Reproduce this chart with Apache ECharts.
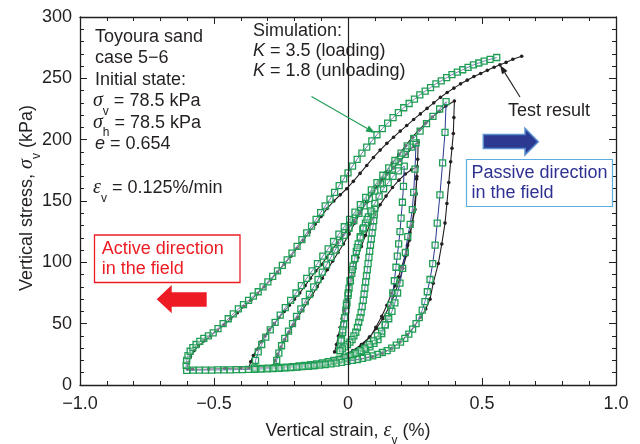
<!DOCTYPE html>
<html>
<head>
<meta charset="utf-8">
<script src="https://cdn.jsdelivr.net/npm/echarts@6/dist/echarts.min.js"></script>
<style>
  html, body { margin: 0; padding: 0; background: #fff; }
  #chart { width: 640px; height: 444px; }
</style>
</head>
<body>
<div id="chart"></div>
<script>
// ---- Axis ticks ----
const xTickValues = [-1, -0.5, 0, 0.5, 1];
const xTickLabels = ['\u22121.0', '\u22120.5', '0', '0.5', '1.0'];
const yTickValues = [0, 50, 100, 150, 200, 250, 300];
const yTickLabels = ['0', '50', '100', '150', '200', '250', '300'];

// ---- Test result: [vertical strain %, vertical stress kPa] ----
const testReload1 = [[-0.050,27],[-0.043,33],[-0.036,40],[-0.029,47],[-0.022,54],[-0.014,61],[-0.005,69],[0.004,77],[0.014,86],[0.025,95],[0.037,104],[0.050,113],[0.065,122],[0.082,131],[0.100,139],[0.120,147],[0.142,154],[0.166,161],[0.190,167],[0.214,172],[0.237,175.5],[0.258,178]];
const testUnload1 = [[0.258,178],[0.256,168],[0.252,155],[0.246,142],[0.238,130],[0.229,118],[0.218,106],[0.205,95],[0.190,84],[0.172,73],[0.152,63],[0.130,54],[0.106,46],[0.080,39],[0.050,33],[0.018,28],[-0.020,24],[-0.065,20.5],[-0.115,18],[-0.170,16.5],[-0.225,15.5],[-0.280,15]];
const testReload2 = [[-0.280,15],[-0.272,20],[-0.262,25],[-0.250,31],[-0.236,37],[-0.220,43],[-0.204,49],[-0.188,55],[-0.170,61],[-0.152,67],[-0.134,73],[-0.115,80],[-0.096,87],[-0.077,94],[-0.057,101],[-0.037,108],[-0.017,115],[0.004,123],[0.025,132],[0.045,140],[0.070,149],[0.095,158],[0.120,165],[0.145,172],[0.170,177],[0.195,183],[0.220,188.5],[0.245,194.5],[0.262,198]];
const testUnload2 = [[0.262,198],[0.260,184],[0.257,170],[0.254,156],[0.250,143],[0.241,133],[0.231,124],[0.222,114],[0.213,105],[0.200,96],[0.188,88],[0.176,81],[0.163,75],[0.145,65],[0.126,56],[0.104,47],[0.082,39],[0.055,33],[0.025,28],[-0.010,24],[-0.050,21],[-0.100,18.5],[-0.160,16.5],[-0.220,15.2],[-0.280,14.5],[-0.330,14],[-0.370,14]];
const testReload3 = [[-0.370,14],[-0.363,19],[-0.353,24],[-0.340,29],[-0.325,35],[-0.310,40],[-0.293,45],[-0.275,50],[-0.257,55],[-0.238,60],[-0.219,65],[-0.200,70],[-0.180,75],[-0.160,81],[-0.140,87],[-0.120,93],[-0.100,98],[-0.080,104],[-0.060,110],[-0.040,116],[-0.020,122],[0.000,127],[0.022,134],[0.045,141],[0.068,149],[0.091,157],[0.115,165],[0.140,173],[0.165,181],[0.190,188],[0.215,195],[0.240,202],[0.265,208],[0.290,213.5],[0.315,218.5],[0.340,223],[0.365,227.5],[0.397,231.5]];
const testUnload3 = [[0.397,231.5],[0.395,218],[0.393,205],[0.388,193],[0.383,182],[0.376,165],[0.369,148],[0.362,132],[0.350,115],[0.337,99],[0.318,83],[0.306,70],[0.290,62],[0.270,55],[0.248,48],[0.222,41],[0.194,35],[0.164,30],[0.130,26],[0.090,23],[0.045,21],[0.000,19.5],[-0.050,18.3],[-0.100,17.3],[-0.160,16.3],[-0.220,15.5],[-0.280,14.8],[-0.340,14.2],[-0.400,13.8],[-0.460,13.4],[-0.520,13.1],[-0.580,12.9],[-0.600,13]];
const testReload4 = [[-0.600,13],[-0.596,18],[-0.588,23],[-0.575,28],[-0.558,32],[-0.537,36],[-0.513,40],[-0.488,44.5],[-0.463,49],[-0.438,54],[-0.413,59],[-0.388,64],[-0.363,69],[-0.338,74.5],[-0.313,80],[-0.288,86],[-0.263,92],[-0.238,98.5],[-0.213,105],[-0.190,111.5],[-0.167,118],[-0.145,124.5],[-0.123,131],[-0.100,137.5],[-0.077,144],[-0.053,150],[-0.029,155],[-0.005,160],[0.020,166],[0.045,172.5],[0.070,179],[0.095,185.5],[0.120,191.5],[0.145,197],[0.170,202],[0.195,207],[0.219,211.5],[0.245,216.5],[0.270,221],[0.295,225.5],[0.320,230],[0.345,234.5],[0.370,238.5],[0.395,242],[0.420,245.5],[0.445,248.5],[0.470,251.5],[0.495,254],[0.520,256.5],[0.545,259],[0.567,261],[0.590,263],[0.615,265.5],[0.648,268]];

// ---- Simulation (K = 3.5 loading, K = 1.8 unloading) ----
const simReload1 = [[-0.030,28],[-0.027,32],[-0.024,37],[-0.020,43],[-0.016,49],[-0.012,55],[-0.008,61],[-0.004,67],[0.000,73],[0.004,79],[0.009,85],[0.014,91],[0.019,97],[0.025,103],[0.031,109],[0.038,115],[0.046,121],[0.055,127],[0.065,132],[0.076,137],[0.088,141],[0.100,144]];
const simUnload1 = [[0.100,144],[0.098,139],[0.096,134],[0.093,129],[0.090,124],[0.087,119],[0.084,114],[0.081,109],[0.078,104],[0.075,99],[0.072,94],[0.069,89],[0.066,84],[0.063,79],[0.060,74],[0.057,69],[0.053,64],[0.049,59],[0.045,55],[0.040,51],[0.035,47],[0.029,43],[0.022,40],[0.015,37],[0.007,35],[-0.002,33],[-0.012,31],[-0.021,29.5],[-0.030,28]];
const simReload2 = [[-0.030,28],[-0.026,36],[-0.020,45],[-0.013,55],[-0.006,65],[0.001,75],[0.008,85],[0.016,94],[0.025,103],[0.035,112],[0.046,120],[0.058,128],[0.071,135],[0.085,142],[0.100,148],[0.116,154],[0.133,160],[0.150,165],[0.168,170],[0.188,174.5],[0.210,178.5]];
const simUnload2 = [[0.210,178.5],[0.207,162],[0.203,149],[0.198,136],[0.194,125],[0.189,115],[0.184,105],[0.179,96],[0.173,85],[0.167,75],[0.159,65],[0.150,56],[0.139,49],[0.126,42],[0.112,37],[0.097,34],[0.082,31],[0.066,29],[0.050,27.5],[0.035,26],[0.020,24.5],[0.003,23],[-0.015,21.5],[-0.035,20.2],[-0.056,19],[-0.077,18],[-0.099,17.2],[-0.121,16.5],[-0.143,15.8],[-0.165,15.3],[-0.187,14.8],[-0.209,14.5],[-0.231,14.2],[-0.253,14],[-0.270,14]];
const simReload3 = [[-0.270,14],[-0.266,20],[-0.258,26],[-0.248,32],[-0.236,38],[-0.222,44],[-0.207,50],[-0.192,56],[-0.176,62],[-0.160,68],[-0.144,74],[-0.128,80],[-0.112,86],[-0.096,92],[-0.080,98],[-0.064,104],[-0.048,110],[-0.031,116],[-0.014,122],[0.004,128],[0.022,134],[0.041,140],[0.060,146],[0.080,152],[0.100,158],[0.121,164],[0.143,170],[0.166,176],[0.190,182],[0.214,188],[0.238,194],[0.254,197.5]];
const simUnload3 = [[0.254,197.5],[0.250,176],[0.245,157],[0.240,143],[0.232,131],[0.223,121],[0.214,108],[0.204,95],[0.194,83],[0.185,75],[0.175,67],[0.164,60],[0.152,54],[0.139,49],[0.125,44],[0.110,40],[0.095,36],[0.079,33],[0.062,30],[0.045,28],[0.027,26],[0.008,24],[-0.012,22.5],[-0.032,21],[-0.053,20],[-0.074,19],[-0.095,18],[-0.117,17.2],[-0.139,16.5],[-0.161,16],[-0.183,15.5],[-0.205,15],[-0.228,14.6],[-0.251,14.3],[-0.274,14],[-0.297,13.8],[-0.320,13.6],[-0.343,13.5],[-0.350,14]];
const simReload4 = [[-0.350,14],[-0.345,20],[-0.335,27],[-0.322,33],[-0.307,39],[-0.290,45],[-0.272,51],[-0.253,57],[-0.234,63],[-0.214,69],[-0.194,75],[-0.174,81],[-0.154,87],[-0.134,93],[-0.114,99],[-0.094,105],[-0.074,111],[-0.054,117],[-0.034,123],[-0.014,129],[0.006,135],[0.026,141],[0.046,147],[0.066,153],[0.087,159],[0.108,165],[0.130,171],[0.152,177],[0.175,183],[0.198,189],[0.221,195],[0.245,201],[0.269,207],[0.293,213],[0.317,219],[0.342,225],[0.366,231]];
const simUnload4 = [[0.366,231],[0.362,206],[0.353,181],[0.343,155],[0.333,132],[0.325,114],[0.316,99],[0.306,86],[0.296,76],[0.287,68],[0.277,61],[0.266,55],[0.254,50],[0.241,45.5],[0.227,41.5],[0.212,38],[0.196,35],[0.180,32.5],[0.163,30],[0.146,28],[0.128,26.5],[0.110,25],[0.092,23.8],[0.073,22.7],[0.054,21.7],[0.035,20.8],[0.016,20],[-0.004,19.2],[-0.024,18.5],[-0.044,17.8],[-0.064,17.2],[-0.085,16.7],[-0.106,16.2],[-0.127,15.7],[-0.148,15.3],[-0.170,14.9],[-0.192,14.5],[-0.214,14.2],[-0.236,13.9],[-0.258,13.6],[-0.280,13.4],[-0.302,13.2],[-0.325,13],[-0.348,12.8],[-0.371,12.7],[-0.394,12.6],[-0.417,12.5],[-0.440,12.4],[-0.463,12.3],[-0.486,12.3],[-0.509,12.2],[-0.532,12.2],[-0.555,12.1],[-0.578,12.1],[-0.602,12]];
const simReload5 = [[-0.602,12],[-0.604,16],[-0.602,20],[-0.597,24],[-0.589,27.5],[-0.579,30.5],[-0.567,33],[-0.553,35.5],[-0.538,38],[-0.521,40],[-0.503,42.5],[-0.485,46],[-0.466,50],[-0.447,54],[-0.428,58],[-0.409,62],[-0.390,65.5],[-0.371,69],[-0.353,72.5],[-0.335,76],[-0.317,80],[-0.299,84],[-0.281,88.5],[-0.263,93],[-0.245,97.5],[-0.227,102],[-0.209,107.5],[-0.190,113],[-0.172,118.5],[-0.154,124],[-0.136,129.5],[-0.119,135],[-0.102,140.5],[-0.085,146],[-0.067,151.5],[-0.050,157],[-0.033,162.5],[-0.016,168],[0.000,173],[0.017,178.5],[0.034,184],[0.052,189],[0.070,194],[0.089,199],[0.108,204],[0.128,209],[0.148,213.5],[0.168,218],[0.188,222],[0.208,226],[0.228,229.5],[0.248,233],[0.268,236.5],[0.288,239.5],[0.308,242.5],[0.328,245.5],[0.348,248],[0.368,250.5],[0.388,253],[0.408,255],[0.428,257],[0.448,259],[0.468,261],[0.488,262.5],[0.508,264],[0.530,265.5],[0.555,267]];

// Join the branches of each history into one continuous path
function joinPath(parts) {
  return parts.reduce((acc, p, i) => acc.concat(i === 0 ? p : p.slice(1)), []);
}
const testPath = joinPath([testReload1, testUnload1, testReload2, testUnload2, testReload3, testUnload3, testReload4]);
const simPath = joinPath([simReload1, simUnload1, simReload2, simUnload2, simReload3, simUnload3, simReload4, simUnload4, simReload5]);

// ---- Styling ----
const INK = '#231f20';
const GREEN = '#1f9d55';
const NAVY = '#2b3990';
const RED = '#ed1c24';
const SANS = 'Liberation Sans, Arial, sans-serif';
const SERIF = 'Liberation Serif, Times New Roman, serif';
const FS = 18;

function richSet(color) {
  return {
    n:   { fontFamily: SANS, fontSize: FS, fill: color, lineHeight: 22, verticalAlign: 'middle' },
    si:  { fontFamily: SANS, fontSize: FS, fontStyle: 'italic', fill: color, lineHeight: 22, verticalAlign: 'middle' },
    gi:  { fontFamily: SERIF, fontSize: FS + 2, fontStyle: 'italic', fill: color, lineHeight: 22, verticalAlign: 'middle' },
    sub: { fontFamily: SANS, fontSize: 12, fill: color, height: 2, lineHeight: 2, verticalAlign: 'bottom' }
  };
}

function textEl(x, y, text, opts) {
  opts = opts || {};
  return {
    type: 'text', x: x, y: y, silent: true, rotation: opts.rotation || 0, z: 10,
    style: {
      legacy: false,
      text: text,
      rich: richSet(opts.color || INK),
      align: opts.align || 'left',
      verticalAlign: opts.vAlign || 'top'
    }
  };
}

function arrowHead(x1, y1, x2, y2, len, half) {
  const dx = x2 - x1, dy = y2 - y1, L = Math.hypot(dx, dy);
  const ux = dx / L, uy = dy / L;
  const bx = x2 - ux * len, by = y2 - uy * len;
  return { base: [bx, by], points: [[x2, y2], [bx - uy * half, by + ux * half], [bx + uy * half, by - ux * half]] };
}

const simArrow = arrowHead(311.5, 96.5, 375, 133, 9, 3.5);
const testArrow = arrowHead(520, 97, 500, 65, 9, 3.2);

const graphics = [
  // Specimen description
  textEl(95, 25.7, '{n|Toyoura sand}'),
  textEl(95, 47.2, '{n|case 5\u22126}'),
  textEl(95, 68.7, '{n|Initial state:}'),
  textEl(93, 90.2, '{gi|\u03c3}{sub|v}{n| = 78.5 kPa}'),
  textEl(93, 111.7, '{gi|\u03c3}{sub|h}{n| = 78.5 kPa}'),
  textEl(95, 133.2, '{si|e}{n| = 0.654}'),
  textEl(93, 177.2, '{gi|\u03b5}{sub|v}{n| = 0.125%/min}'),
  // Simulation parameters
  textEl(253, 20.4, '{n|Simulation:}'),
  textEl(253, 40, '{si|K}{n| = 3.5 (loading)}'),
  textEl(253, 60, '{si|K}{n| = 1.8 (unloading)}'),
  // Pointer to the simulation curve
  { type: 'line', silent: true, z: 9, shape: { x1: 311.5, y1: 96.5, x2: simArrow.base[0], y2: simArrow.base[1] }, style: { stroke: GREEN, lineWidth: 1.1 } },
  { type: 'polygon', silent: true, z: 9, shape: { points: simArrow.points }, style: { fill: GREEN } },
  // Pointer to the test curve
  textEl(508, 100, '{n|Test result}'),
  { type: 'line', silent: true, z: 9, shape: { x1: 520, y1: 97, x2: testArrow.base[0], y2: testArrow.base[1] }, style: { stroke: INK, lineWidth: 1.1 } },
  { type: 'polygon', silent: true, z: 9, shape: { points: testArrow.points }, style: { fill: INK } },
  // Passive direction
  { type: 'polygon', silent: true, z: 9, shape: { points: [[538.3,141.7],[525,128.3],[525,134.5],[483.3,134.5],[483.3,148.5],[525,148.5],[525,155]] }, style: { fill: NAVY, stroke: '#5a8fd0', lineWidth: 1.5 } },
  { type: 'rect', silent: true, z: 9, shape: { x: 466.5, y: 159.5, width: 146, height: 47 }, style: { fill: '#fff', stroke: '#5aaee0', lineWidth: 1.2 } },
  textEl(471.5, 162.2, '{n|Passive direction}', { color: '#2e3192' }),
  textEl(471.5, 182, '{n|in the field}', { color: '#2e3192' }),
  // Active direction
  { type: 'rect', silent: true, z: 9, shape: { x: 94.5, y: 235, width: 145.5, height: 47.5 }, style: { fill: '#fff', stroke: RED, lineWidth: 1.3 } },
  textEl(101.7, 237.7, '{n|Active direction}', { color: RED }),
  textEl(101.7, 257.7, '{n|in the field}', { color: RED }),
  { type: 'polygon', silent: true, z: 9, shape: { points: [[156.7,299.3],[171.7,285],[171.7,292.3],[206.7,292.3],[206.7,306.7],[171.7,306.7],[171.7,313.3]] }, style: { fill: RED } },
  // Axis titles
  textEl(348, 431, '{n|Vertical strain, }{gi|\u03b5}{sub|v}{n| (%)}', { align: 'center', vAlign: 'middle' }),
  textEl(27, 198, '{n|Vertical stress, }{gi|\u03c3}{sub|v}{n| (kPa)}', { align: 'center', vAlign: 'middle', rotation: Math.PI / 2 })
];

function baseAxis(extra) {
  return Object.assign({
    type: 'value',
    axisLine: { show: true, onZero: false, lineStyle: { color: INK, width: 1.3 } },
    axisTick: { show: true, inside: true, length: 7, lineStyle: { color: INK, width: 1 } },
    minorTick: { show: true, splitNumber: 5, length: 4, lineStyle: { color: INK, width: 1 } },
    splitLine: { show: false },
    minorSplitLine: { show: false }
  }, extra);
}

const labelStyle = { fontFamily: SANS, fontSize: FS, color: INK };

const option = {
  animation: false,
  backgroundColor: '#fff',
  grid: { left: 80, right: 24, top: 17, bottom: 59, containLabel: false, outerBoundsMode: 'none' },
  xAxis: [
    baseAxis({
      min: -1, max: 1, interval: 0.5, position: 'bottom',
      axisLabel: Object.assign({ margin: 10, formatter: v => {
        const i = xTickValues.findIndex(t => Math.abs(t - v) < 1e-9);
        return i >= 0 ? xTickLabels[i] : '';
      } }, labelStyle)
    }),
    baseAxis({ min: -1, max: 1, interval: 0.5, position: 'top', axisLabel: { show: false } })
  ],
  yAxis: [
    baseAxis({
      min: 0, max: 300, interval: 50, position: 'left',
      axisLabel: Object.assign({ margin: 8, formatter: v => {
        const i = yTickValues.indexOf(Math.round(v));
        return i >= 0 ? yTickLabels[i] : '';
      } }, labelStyle)
    }),
    baseAxis({ min: 0, max: 300, interval: 50, position: 'right', axisLabel: { show: false } })
  ],
  graphic: graphics,
  series: [
    {
      name: 'Test result',
      type: 'line',
      xAxisIndex: 0, yAxisIndex: 0,
      data: testPath,
      smooth: false,
      symbol: 'circle', symbolSize: 3.6, showSymbol: true, showAllSymbol: true,
      lineStyle: { color: INK, width: 1.1 },
      itemStyle: { color: INK },
      emphasis: { disabled: true },
      z: 2,
      markLine: {
        silent: true, symbol: ['none', 'none'], label: { show: false },
        lineStyle: { color: INK, width: 1.2, type: 'solid' },
        emphasis: { disabled: true },
        data: [{ xAxis: 0 }]
      }
    },
    {
      name: 'Simulation',
      type: 'line',
      xAxisIndex: 0, yAxisIndex: 0,
      data: simPath,
      smooth: false,
      symbol: 'rect', symbolSize: 6, showSymbol: true, showAllSymbol: true,
      lineStyle: { color: NAVY, width: 1 },
      itemStyle: { color: 'rgba(255,255,255,0.35)', borderColor: GREEN, borderWidth: 1.3 },
      emphasis: { disabled: true },
      z: 3
    }
  ]
};

const chart = echarts.init(document.getElementById('chart'), null, { renderer: 'canvas' });
chart.setOption(option);
</script>
</body>
</html>
